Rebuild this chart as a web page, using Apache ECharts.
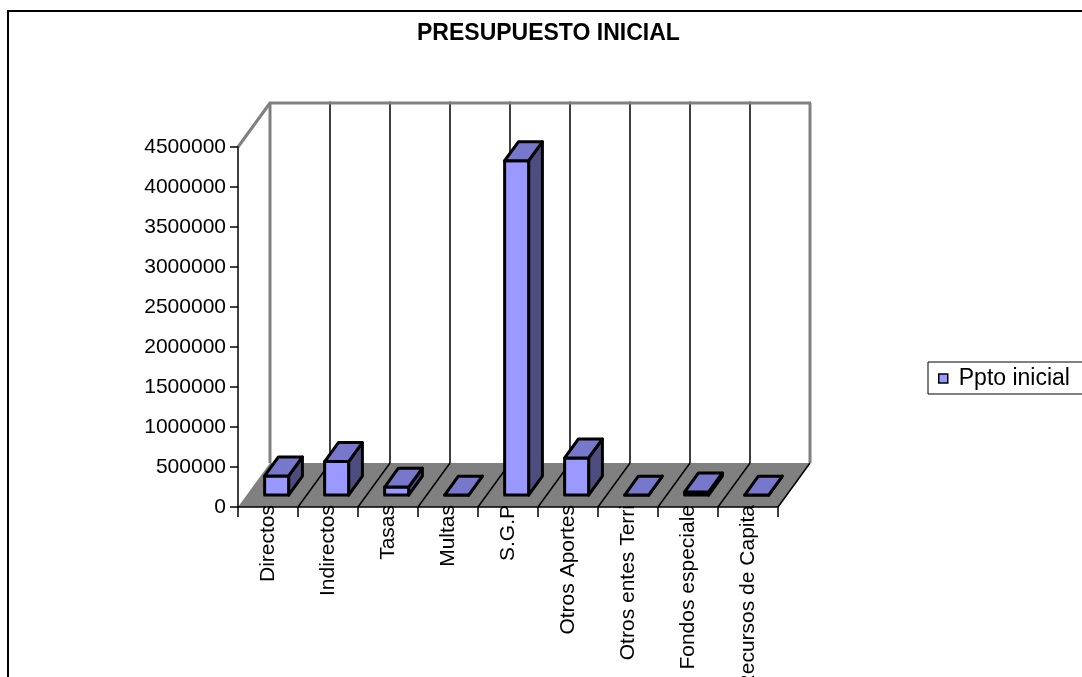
<!DOCTYPE html>
<html>
<head>
<meta charset="utf-8">
<script src="https://cdn.jsdelivr.net/npm/echarts@6/dist/echarts.min.js"></script>
<style>
  html, body { margin: 0; padding: 0; background: #ffffff; }
  #chart { width: 1082px; height: 677px; }
</style>
</head>
<body>
<div id="chart"></div>
<script>
// ---- data ----
const chartTitle = 'PRESUPUESTO INICIAL';
const seriesName = 'Ppto inicial';
const categories = ['Directos', 'Indirectos', 'Tasas', 'Multas', 'S.G.P', 'Otros Aportes', 'Otros entes Terri', 'Fondos especiale', 'Recursos de Capita'];
const values = [240000, 420000, 100000, 0, 4180000, 465000, 0, 40000, 0];
const yMin = 0;
const yMax = 4500000;
const yStep = 500000;

// ---- styling constants ----
const FONT = 'Liberation Sans, Arial, sans-serif';
const DX = 32, DY = -44;          // depth offset of the 3D box
const FRONT = 0.27, BACK = 0.70;  // bar position within depth
const GRAY = '#808080';

const chart = echarts.init(document.getElementById('chart'), null, { renderer: 'canvas' });

function renderFrame(params, api) {
  const i = api.value(0);
  const band = api.size([1, 0])[0];
  const c0 = api.coord([i, yMin]);
  const cT = api.coord([i, yMax]);
  const xL = c0[0] - band / 2, xR = c0[0] + band / 2;
  const y0 = c0[1], yT = cT[1];
  const children = [];
  if (i === 0) {
    const last = api.coord([categories.length - 1, yMin]);
    const xRR = last[0] + band / 2;
    children.push({
      type: 'polygon',
      shape: { points: [[xL, y0], [xRR, y0], [xRR + DX, y0 + DY], [xL + DX, y0 + DY]] },
      style: { fill: GRAY, stroke: null }
    });
    children.push({ type: 'line', shape: { x1: xL + DX, y1: y0 + DY, x2: xL + DX, y2: yT + DY }, style: { stroke: GRAY, lineWidth: 3 } });
    children.push({ type: 'line', shape: { x1: xL, y1: yT, x2: xL + DX, y2: yT + DY }, style: { stroke: GRAY, lineWidth: 3 } });
  }
  children.push({ type: 'line', shape: { x1: xL + DX - 1, y1: yT + DY, x2: xR + DX + 1, y2: yT + DY }, style: { stroke: GRAY, lineWidth: 3 } });
  children.push({ type: 'line', shape: { x1: xR, y1: y0, x2: xR + DX, y2: y0 + DY }, style: { stroke: '#000', lineWidth: 1.5 } });
  const isLast = i === categories.length - 1;
  children.push({
    type: 'line',
    shape: { x1: xR + DX, y1: y0 + DY, x2: xR + DX, y2: yT + DY },
    style: { stroke: isLast ? GRAY : '#000', lineWidth: isLast ? 3 : 1.5 }
  });
  return { type: 'group', children: children };
}

function renderBar(params, api) {
  const i = api.value(0);
  const v = api.value(1);
  const band = api.size([1, 0])[0];
  const c = api.coord([i, yMin]);
  const t = api.coord([i, v]);
  const hw = band * 0.2;
  const fx = FRONT * DX, fy = FRONT * DY, bx = BACK * DX, by = BACK * DY;
  const L = c[0] - hw, R = c[0] + hw;
  const yb = c[1], yt = t[1];
  const common = { stroke: '#000', lineWidth: 3, lineJoin: 'round' };
  return {
    type: 'group',
    children: [
      { type: 'polygon', shape: { points: [[R + fx, yt + fy], [R + bx, yt + by], [R + bx, yb + by], [R + fx, yb + fy]] },
        style: Object.assign({ fill: '#4D4D80' }, common) },
      { type: 'polygon', shape: { points: [[L + fx, yt + fy], [R + fx, yt + fy], [R + fx, yb + fy], [L + fx, yb + fy]] },
        style: Object.assign({ fill: '#9999FF' }, common) },
      { type: 'polygon', shape: { points: [[L + fx, yt + fy], [R + fx, yt + fy], [R + bx, yt + by], [L + bx, yt + by]] },
        style: Object.assign({ fill: '#7777CC' }, common) }
    ]
  };
}

const option = {
  backgroundColor: '#ffffff',
  animation: false,
  title: {
    text: chartTitle,
    left: 417,
    top: 22,
    padding: 0,
    textStyle: { fontFamily: FONT, fontSize: 23, fontWeight: 'bold', color: '#000' }
  },
  legend: {
    data: [seriesName],
    left: 928,
    top: 362,
    orient: 'vertical',
    padding: [5, 200, 4, 10],
    borderColor: '#000',
    borderWidth: 1,
    icon: 'rect',
    itemWidth: 9,
    itemHeight: 9,
    itemStyle: { color: '#9999FF', borderColor: '#000', borderWidth: 1.5 },
    textStyle: { fontFamily: FONT, fontSize: 23, color: '#000', padding: [0, 0, 0, 6] }
  },
  graphic: [
    { type: 'rect', shape: { x: 8, y: 11, width: 1200, height: 1000 }, style: { fill: 'none', stroke: '#000', lineWidth: 2 }, z: 100 }
  ],
  grid: { left: 238, top: 147, width: 540, height: 360, containLabel: false, outerBoundsMode: 'none' },
  xAxis: {
    type: 'category',
    data: categories,
    boundaryGap: true,
    z: 5,
    axisLine: { show: true, lineStyle: { color: '#000', width: 1.5 } },
    axisTick: { show: true, length: 10, alignWithLabel: false, interval: 0, lineStyle: { color: '#000', width: 1.5 } },
    axisLabel: { interval: 0, rotate: 90, margin: -2, fontFamily: FONT, fontSize: 21, color: '#000' },
    splitLine: { show: false }
  },
  yAxis: {
    type: 'value',
    min: yMin,
    max: yMax,
    interval: yStep,
    z: 5,
    axisLine: { show: true, lineStyle: { color: '#000', width: 1.5 } },
    axisTick: { show: true, length: 8, lineStyle: { color: '#000', width: 1.5 } },
    axisLabel: { margin: 12, fontFamily: FONT, fontSize: 21, color: '#000', formatter: function (v) { return String(v); } },
    splitLine: { show: false }
  },
  series: [
    {
      name: 'frame',
      type: 'custom',
      z: 1,
      silent: true,
      renderItem: renderFrame,
      encode: { x: 0, y: 1 },
      data: categories.map(function (c, i) { return [i, yMin]; })
    },
    {
      name: seriesName,
      type: 'custom',
      z: 3,
      itemStyle: { color: '#9999FF' },
      renderItem: renderBar,
      encode: { x: 0, y: 1 },
      data: values.map(function (v, i) { return [i, v]; })
    }
  ]
};
chart.setOption(option);
</script>
</body>
</html>
